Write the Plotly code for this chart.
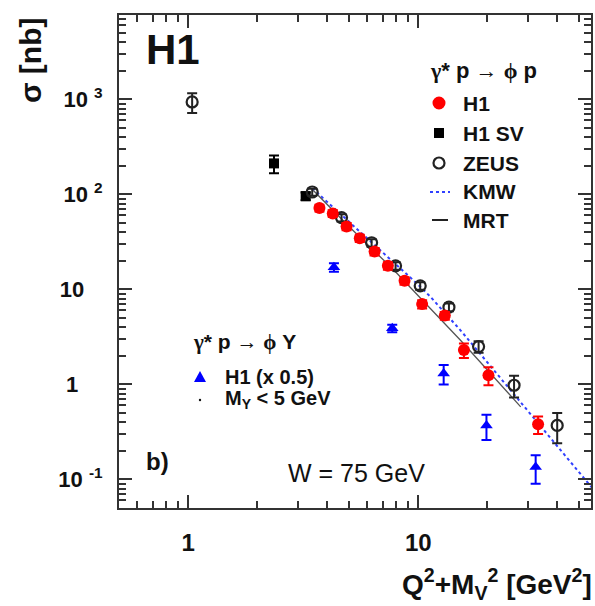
import plotly.graph_objects as go

# ---------------- data ----------------
# H1, gamma* p -> phi p (elastic)
h1_x = [3.72, 4.25, 4.88, 5.57, 6.46, 7.38, 8.72, 10.4, 13.05, 15.8, 20.2, 33.2]
h1_y = [72, 63, 46, 34.5, 25, 17.7, 12.3, 7.0, 5.3, 2.3, 1.25, 0.38]
h1_err = [6, 5, 4, 3, 2.2, 1.6, 1.1, 0.7, 0.5, 0.4, 0.27, 0.08]

# H1 SV
h1sv_x = [2.36, 3.24]
h1sv_y = [212, 96]
h1sv_err = [45, 9]

# ZEUS
zeus_x = [1.04, 3.46, 4.64, 6.27, 7.97, 10.2, 13.6, 18.3, 26.1, 40.2]
zeus_y = [940, 106, 57, 31, 17.7, 10.9, 6.5, 2.5, 0.98, 0.37]
zeus_err = [220, 9, 5, 2.8, 1.6, 1.0, 0.6, 0.35, 0.25, 0.13]

# H1, gamma* p -> phi Y (x 0.5), M_Y < 5 GeV
pdiss_x = [4.30, 7.71, 12.9, 19.8, 32.4]
pdiss_y = [17.1, 3.9, 1.3, 0.37, 0.135]
pdiss_err = [1.8, 0.35, 0.3, 0.11, 0.045]

# model curves
kmw_x = [3.46, 5, 7, 10, 11.3, 15.3, 22, 33, 45, 57]
kmw_y = [116, 51.6, 24.6, 11.2, 8.36, 3.69, 1.29, 0.397, 0.162, 0.0815]
mrt_x = [3.5, 5, 7.83, 15.3, 27.9]
mrt_y = [110, 46, 16, 2.9, 0.58]

x_major = [1, 10]
x_major_text = ["1", "10"]
x_minor = [0.6, 0.7, 0.8, 0.9, 2, 3, 4, 5, 6, 7, 8, 9, 20, 30, 40, 50]
y_major = [0.1, 1, 10, 100, 1000]
y_major_text = ["10 <sup>-1</sup>", "1\u00a0\u00a0\u00a0\u00a0", "10\u00a0\u00a0\u00a0", "10 <sup>2</sup>", "10 <sup>3</sup>"]
y_minor = [m * d for d in [0.01, 0.1, 1, 10, 100, 1000] for m in range(2, 10)]

# ---------------- layout geometry ----------------
W, H = 595, 606
L, R, T, B = 119, 591, 15, 508
PW, PH = R - L, B - T
XRANGE = [-0.301, -0.301 + PW / 230.0]
YRANGE = [-1.301, -1.301 + PH / 95.0]

def px(x):
    return (x - L) / PW

def py(y):
    return (B - y) / PH

FONT = "Liberation Sans"
SERIF = "Liberation Serif"
INK = "#111111"
AX = "#333333"

fig = go.Figure()

err_common = dict(type="data", thickness=2, width=5)

fig.add_trace(go.Scatter(x=kmw_x, y=kmw_y, mode="lines",
                         line=dict(color="#3040ff", width=2, dash="dot"), showlegend=False))
fig.add_trace(go.Scatter(x=mrt_x, y=mrt_y, mode="lines",
                         line=dict(color="#555555", width=1.3), showlegend=False))
fig.add_trace(go.Scatter(x=pdiss_x, y=pdiss_y, mode="markers",
                         marker=dict(symbol="triangle-up", size=11, color="#0000ff"),
                         error_y=dict(array=pdiss_err, color="#0000ff", **err_common),
                         showlegend=False))
fig.add_trace(go.Scatter(x=h1sv_x, y=h1sv_y, mode="markers",
                         marker=dict(symbol="square", size=10, color="black"),
                         error_y=dict(array=h1sv_err, color="black", **err_common),
                         showlegend=False))
fig.add_trace(go.Scatter(x=zeus_x, y=zeus_y, mode="markers",
                         marker=dict(symbol="circle-open", size=11, color="#222222", line=dict(width=2.2)),
                         error_y=dict(array=zeus_err, color="#222222", **err_common),
                         showlegend=False))
fig.add_trace(go.Scatter(x=h1_x, y=h1_y, mode="markers",
                         marker=dict(symbol="circle", size=12, color="#ff0000"),
                         error_y=dict(array=h1_err, color="#ff0000", **err_common),
                         showlegend=False))
# invisible trace to carry the mirrored (top / right) tick axes
fig.add_trace(go.Scatter(x=[1], y=[1], xaxis="x2", yaxis="y2", mode="markers",
                         marker=dict(opacity=0), hoverinfo="skip", showlegend=False))

axis_common = dict(type="log", showline=True, linewidth=2, linecolor=AX,
                   ticks="inside", ticklen=13, tickwidth=2, tickcolor=AX,
                   showgrid=False, zeroline=False,
                   tickfont=dict(family=FONT, size=22, color=INK, weight="bold"))
minor_x = dict(tickvals=x_minor, ticks="inside", ticklen=7, tickwidth=2, tickcolor=AX)
minor_y = dict(tickvals=y_minor, ticks="inside", ticklen=7, tickwidth=2, tickcolor=AX)

fig.update_layout(
    xaxis=dict(**axis_common, range=XRANGE, tickvals=x_major, ticktext=x_major_text,
               ticklabelstandoff=12, minor=minor_x),
    yaxis=dict(**axis_common, range=YRANGE, tickvals=y_major, ticktext=y_major_text,
               ticklabelstandoff=10, minor=minor_y),
    xaxis2=dict(**axis_common, range=XRANGE, tickvals=x_major, showticklabels=False,
                overlaying="x", side="top", anchor="y2", minor=minor_x),
    yaxis2=dict(**axis_common, range=YRANGE, tickvals=y_major, showticklabels=False,
                overlaying="y", side="right", anchor="x2", minor=minor_y),
)
fig.layout.xaxis.tickfont.size = 24

ann = []
def text(x, y, s, size, xanchor="left", bold=True, angle=0, family=FONT):
    ann.append(dict(x=px(x), y=py(y), xref="paper", yref="paper", text=s, showarrow=False,
                    xanchor=xanchor, yanchor="middle", textangle=angle,
                    font=dict(family=family, size=size, color=INK, weight="bold" if bold else "normal")))

sg = lambda c: f"<span style='font-family:{SERIF}'>{c}</span>"

text(144, 49, "H1", 42)
text(428, 70, f"{sg('γ')}* p {sg('→')} {sg('ϕ')} p", 22)
text(461, 103, "H1", 21)
text(461, 133, "H1 SV", 21)
text(461, 163, "ZEUS", 21)
text(461, 192, "KMW", 21)
text(461, 220, "MRT", 21)
text(191, 342, f"{sg('γ')}* p {sg('→')} {sg('ϕ')} Y", 21)
text(223, 377, "H1 (x 0.5)", 20)
text(223, 399, "M<sub>Y</sub> < 5 GeV", 20)
text(144, 461, "b)", 24)
text(286, 473, "W = 75 GeV", 25, bold=False)
text(594, 584, "Q<sup>2</sup>+M<sub>V</sub><sup>2</sup> [GeV<sup>2</sup>]", 28, xanchor="right")
ann.append(dict(x=px(30), y=py(15), xref="paper", yref="paper", text="σ [nb]", showarrow=False,
                xanchor="center", yanchor="top", textangle=-90,
                font=dict(family=FONT, size=30, color=INK, weight="bold")))

shapes = []
def circ(cx, cy, r, fill=None, line=None, lw=0):
    shapes.append(dict(type="circle", xref="paper", yref="paper",
                       x0=px(cx - r), x1=px(cx + r), y0=py(cy + r), y1=py(cy - r),
                       fillcolor=fill if fill else "rgba(0,0,0,0)",
                       line=dict(color=line if line else "rgba(0,0,0,0)", width=lw)))

circ(439, 103, 6.5, fill="#ff0000")
shapes.append(dict(type="rect", xref="paper", yref="paper", x0=px(434), x1=px(444), y0=py(138), y1=py(128),
                   fillcolor="black", line=dict(width=0)))
circ(439, 163, 5.5, line="#222222", lw=2.2)
shapes.append(dict(type="line", xref="paper", yref="paper", x0=px(430), x1=px(450), y0=py(192), y1=py(192),
                   line=dict(color="#3040ff", width=2, dash="dot")))
shapes.append(dict(type="line", xref="paper", yref="paper", x0=px(432), x1=px(448), y0=py(220), y1=py(220),
                   line=dict(color="#222222", width=2)))
shapes.append(dict(type="path", xref="paper", yref="paper",
                   path=f"M {px(194)} {py(382)} L {px(206)} {py(382)} L {px(200)} {py(371)} Z",
                   fillcolor="#0000ff", line=dict(width=0)))
circ(200, 400, 1.2, fill="#111111")

fig.update_layout(width=W, height=H, margin=dict(l=L, r=W - R, t=T, b=H - B),
                  paper_bgcolor="white", plot_bgcolor="white",
                  annotations=ann, shapes=shapes, showlegend=False)

fig.write_html("out.html")
